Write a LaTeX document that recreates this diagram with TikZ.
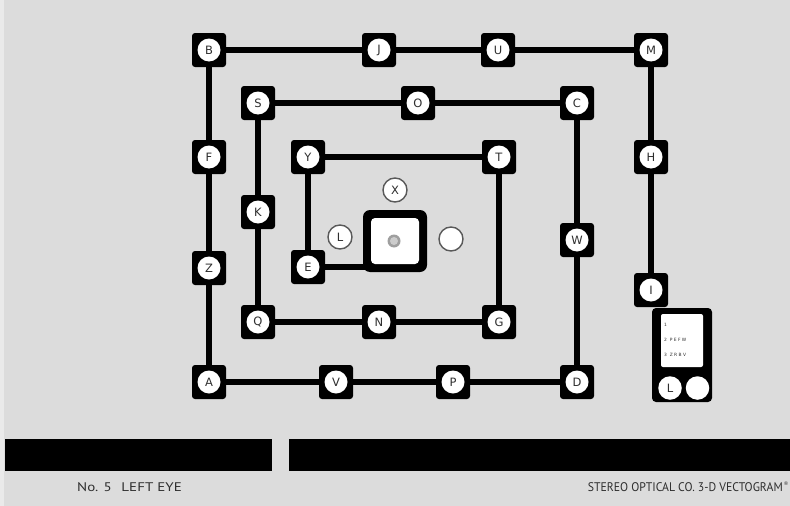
\documentclass[tikz,border=0pt]{standalone}
\usepackage{fontspec}
\setmainfont{DejaVu Sans}
\newfontfamily\capfont{PT Sans}
\pgfdeclarelayer{bg}
\pgfsetlayers{bg,main}
\definecolor{paper}{HTML}{DCDCDC}
\definecolor{ink}{HTML}{2E2E2E}
\begin{document}
\begin{tikzpicture}[x=1pt,y=-1pt,
  box/.style={fill=black, rounded corners=3pt, minimum size=34pt, inner sep=0pt,
    font=\fontsize{11.5}{11.5}\selectfont, text=ink,
    path picture={\fill[white] (path picture bounding box.center) circle (11.5pt);}},
  link/.style={line width=6.3pt, black},
  ring/.style={circle, fill=white, draw=black!65, line width=1.4pt, minimum size=24pt,
    inner sep=0pt, font=\fontsize{11.5}{11.5}\selectfont, text=ink},
  chartdisc/.style={circle, fill=white, minimum size=23.5pt, inner sep=0pt,
    font=\fontsize{11.5}{11.5}\selectfont, text=ink},
  tiny/.style={anchor=base west, inner sep=0pt, font=\fontsize{4.4}{5}\selectfont, text=ink},
  foot/.style={anchor=base west, inner sep=0pt, font=\capfont\fontsize{12.5}{13}\selectfont, text=ink},
]
\useasboundingbox (0,0) rectangle (790,506);

% chart box (bottom right)
\node[fill=black, rounded corners=4pt, minimum width=60pt, minimum height=94pt, inner sep=0pt] (chart) at (682,355) {};
\node[fill=white, rounded corners=2pt, minimum width=42pt, minimum height=53pt, inner sep=0pt] (face) at (682,340.5) {};
\node[tiny] (r1) at (664,326) {1};
\node[tiny] (r2) at (664,341) {2\ \ P E F W};
\node[tiny] (r3) at (664,356) {3\ \ Z R B V};
\node[chartdisc] (cl) at (670,388) {L};
\node[chartdisc] (cb) at (697.5,388) {};

% lettered boxes
\foreach \n/\x/\y in {B/209/50, J/379/50, U/498/50, M/651/50,
  S/258/103, O/418/103, C/577/103,
  F/209/157, Y/308/157, T/499/157, H/651/157,
  K/258/212, W/577/240, E/308/267, Z/209/268, I/651/290,
  Q/258/322, N/379/322, G/499/322,
  A/209/382, V/336/382, P/453/382, D/577/382}
  {\node[box] (\n) at (\x,\y) {\n};}

% free circles
\node[ring] (X) at (395,190) {X};
\node[ring] (L) at (340,237) {L};
\node[ring] (R) at (451,239) {};

% centre target
\node[fill=black, rounded corners=7pt, minimum width=64pt, minimum height=62pt, inner sep=0pt,
  path picture={
    \fill[white, rounded corners=4pt] ([shift={(-24pt,-23pt)}]path picture bounding box.center)
      rectangle ([shift={(24pt,23pt)}]path picture bounding box.center);
    \fill[gray!75] ([shift={(-1pt,0pt)}]path picture bounding box.center) circle (6.5pt);
    \fill[gray!40] ([shift={(-1pt,0pt)}]path picture bounding box.center) circle (4pt);
  }] (ctr) at (395,241) {};

% bars
\fill[black] (5,439) rectangle (272,471);
\fill[black] (289,439) rectangle (790,471);

% footer text
\node[foot] (lefttxt) at (77,491.5) {\scalebox{1.2}[1]{No. 5\hspace{8pt}LEFT EYE}};
\node[foot, anchor=base east] (righttxt) at (783,491.5) {\scalebox{0.94}[1]{STEREO OPTICAL CO. 3-D VECTOGRAM}};
\node[anchor=base west, inner sep=0pt, font=\fontsize{5}{5}\selectfont, text=ink] (reg) at (783.5,485) {\textregistered};

\begin{pgfonlayer}{bg}
  \fill[paper] (0,0) rectangle (790,506);
  \fill[paper!60!white] (0,0) rectangle (4,506);
  \draw[link] (B.center) -- (J.center) -- (U.center) -- (M.center);
  \draw[link] (B.center) -- (F.center) -- (Z.center) -- (A.center);
  \draw[link] (A.center) -- (V.center) -- (P.center) -- (D.center);
  \draw[link] (M.center) -- (H.center) -- (I.center);
  \draw[link] (S.center) -- (O.center) -- (C.center);
  \draw[link] (S.center) -- (K.center) -- (Q.center);
  \draw[link] (Q.center) -- (N.center) -- (G.center);
  \draw[link] (C.center) -- (W.center) -- (D.center);
  \draw[link] (Y.center) -- (T.center);
  \draw[link] (Y.center) -- (E.center);
  \draw[link] (T.center) -- (G.center);
  \draw[link] (E.center) -- (E.center -| ctr.center);
\end{pgfonlayer}
\end{tikzpicture}
\end{document}
